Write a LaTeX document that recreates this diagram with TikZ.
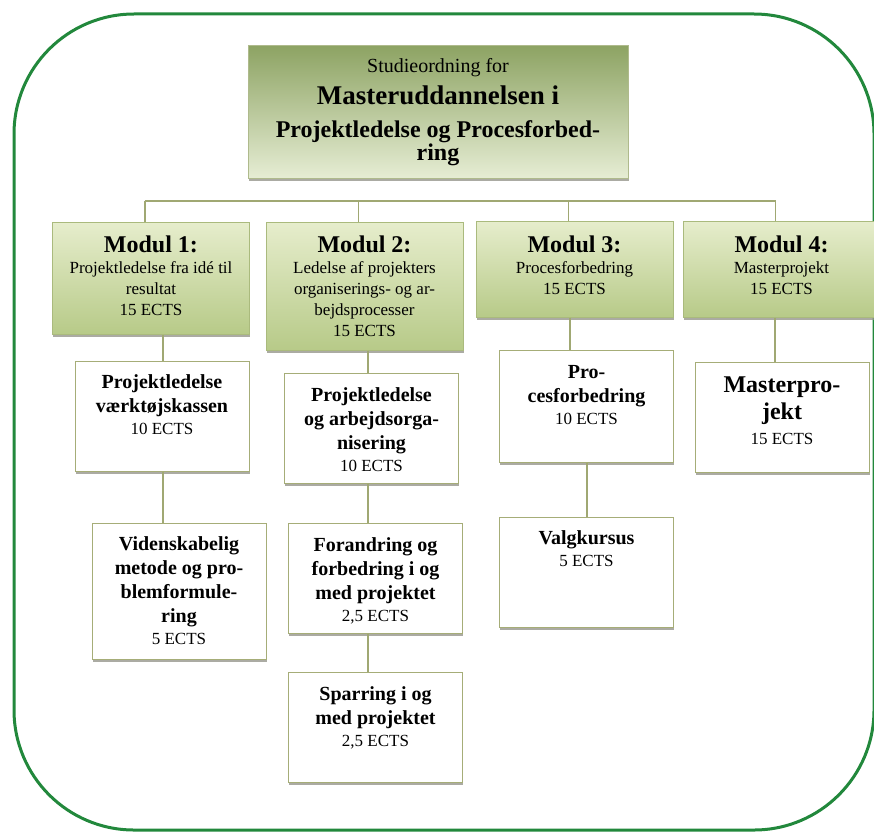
\documentclass[tikz,border=0pt]{standalone}
\usepackage{fontspec}
\setmainfont{Liberation Serif}
\usetikzlibrary{shadows}

\definecolor{framegreen}{RGB}{34,136,60}
\definecolor{topdark}{RGB}{141,163,99}
\definecolor{toplight}{RGB}{230,237,212}
\definecolor{topedge}{RGB}{175,186,140}
\definecolor{modtop}{RGB}{230,237,204}
\definecolor{modbottom}{RGB}{183,202,136}
\definecolor{modedge}{RGB}{170,186,125}
\definecolor{subedge}{RGB}{166,173,120}
\definecolor{connolive}{RGB}{160,168,115}
\definecolor{shadowgray}{RGB}{150,150,140}

\newcommand\modhead{\fontsize{24}{27}\selectfont\bfseries}
\newcommand\subhead{\fontsize{20}{24}\selectfont\bfseries}

\tikzset{
  frame/.style={draw=framegreen, line width=3pt, rounded corners=120pt},
  conn/.style={draw=connolive, line width=1.2pt},
  anybox/.style={anchor=north, align=flush center, inner xsep=3pt, inner ysep=0pt,
    line width=0.8pt,
    drop shadow={shadow xshift=0.8pt, shadow yshift=-3pt, fill=shadowgray, opacity=0.8}},
  topbox/.style={anybox, draw=topedge, top color=topdark, bottom color=toplight,
    text width=374pt},
  modbox/.style={anybox, draw=modedge, top color=modtop, bottom color=modbottom,
    text width=191pt, font={\fontsize{17}{21}\selectfont}},
  subbox/.style={anybox, draw=subedge, fill=white,
    text width=168pt, font={\fontsize{17}{22}\selectfont}},
}

\begin{document}
\begin{tikzpicture}[x=1pt,y=-1pt]
\useasboundingbox (0,0) rectangle (874,832);
\draw[frame] (14,14) rectangle (874,830);

% top
\node[topbox, text height=27pt, text depth=106pt] (top) at (438,45)
  {{\fontsize{20}{24}\selectfont Studieordning for\par}%
   {\fontsize{27}{32}\selectfont\bfseries Masteruddannelsen i\par}%
   {\fontsize{24}{33}\selectfont\bfseries Projektledelse og Procesforbed-\par}%
   {\fontsize{24}{23}\selectfont\bfseries ring\par}};

% moduler
\node[modbox, text height=30pt, text depth=82pt] (m1) at (151,222)
  {{\modhead Modul 1:\par}Projektledelse fra idé til\\ resultat\\ 15 ECTS};
\node[modbox, text height=30pt, text depth=98pt] (m2) at (364.5,222)
  {{\modhead Modul 2:\par}Ledelse af projekters\\ organiserings- og ar-\\ bejdsprocesser\\ 15 ECTS};
\node[modbox, text height=31pt, text depth=65pt] (m3) at (574.5,221)
  {{\modhead Modul 3:\par}Procesforbedring\\ 15 ECTS};
\node[modbox, text height=31pt, text depth=65pt] (m4) at (781.5,221)
  {{\modhead Modul 4:\par}Masterprojekt\\ 15 ECTS};

% kurser
\node[subbox, text height=27pt, text depth=83pt] (a1) at (162,361)
  {{\subhead Projektledelse\\ værktøjskassen\par}10 ECTS};
\node[subbox, text height=27pt, text depth=109pt] (b1) at (179,523)
  {{\subhead Videnskabelig\\ metode og pro-\\ blemformule-\\ ring\par}5 ECTS};
\node[subbox, text height=28pt, text depth=82pt] (a2) at (371.5,373)
  {{\subhead Projektledelse\\ og arbejdsorga-\\ nisering\par}10 ECTS};
\node[subbox, text height=28pt, text depth=82pt] (b2) at (375.5,523)
  {{\subhead Forandring og\\ forbedring i og\\ med projektet\par}2,5 ECTS};
\node[subbox, text height=28pt, text depth=82pt] (c2) at (375.5,672)
  {{\subhead Sparring i og\\ med projektet\par}2,5 ECTS};
\node[subbox, text height=28pt, text depth=84pt] (a3) at (586.5,350)
  {{\subhead Pro-\\ cesforbedring\par}10 ECTS};
\node[subbox, text height=27pt, text depth=83pt] (b3) at (586.5,517)
  {{\subhead Valgkursus\par}5 ECTS};
\node[subbox, text height=30pt, text depth=80pt] (a4) at (782,362)
  {{\modhead Masterpro-\\ jekt\par}\vspace{3pt}15 ECTS};

% streger
\coordinate (bus1) at (145,201);
\coordinate (bus4) at (775,201);
\draw[conn] (bus1) -- (bus4);
\foreach \m in {m1,m2,m3,m4}
  \draw[conn] ([xshift=-6pt]\m.north) |- (bus1);

\coordinate (col1) at (163,0);
\coordinate (col2) at (368,0);
\coordinate (col3) at (570,0);
\coordinate (col3b) at (587,0);
\coordinate (col4) at (775,0);
\draw[conn] (m1.south -| col1) -- (a1.north -| col1);
\draw[conn] (a1.south -| col1) -- (b1.north -| col1);
\draw[conn] (m2.south -| col2) -- (a2.north -| col2);
\draw[conn] (a2.south -| col2) -- (b2.north -| col2);
\draw[conn] (b2.south -| col2) -- (c2.north -| col2);
\draw[conn] (m3.south -| col3) -- (a3.north -| col3);
\draw[conn] (a3.south -| col3b) -- (b3.north -| col3b);
\draw[conn] (m4.south -| col4) -- (a4.north -| col4);
\end{tikzpicture}
\end{document}
